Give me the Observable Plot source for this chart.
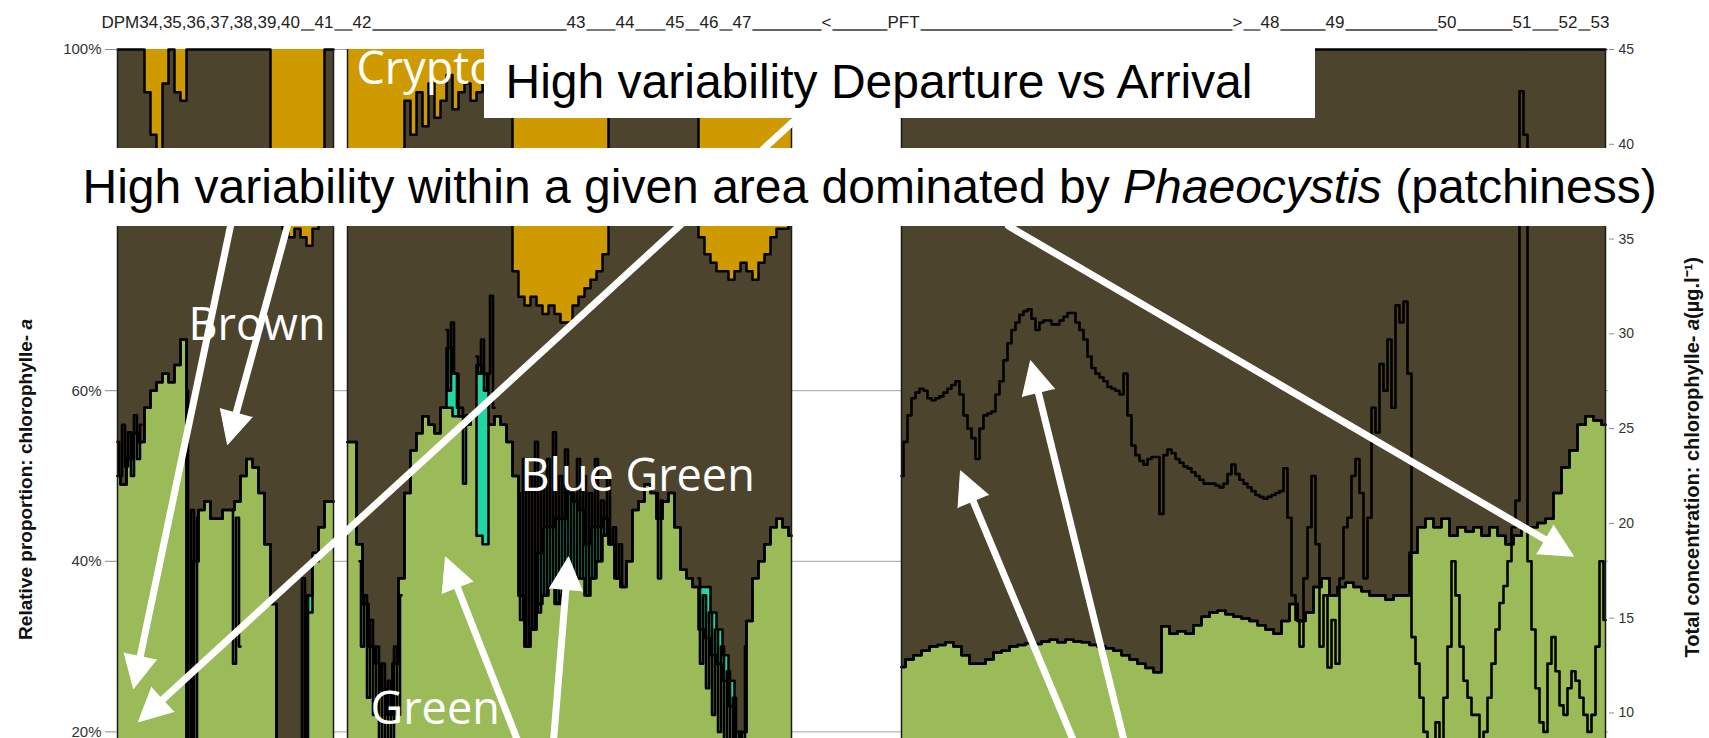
<!DOCTYPE html>
<html><head><meta charset="utf-8">
<script src="https://cdn.jsdelivr.net/npm/d3@7"></script>
<script src="https://cdn.jsdelivr.net/npm/@observablehq/plot@0.6"></script>
<style>html,body{margin:0;padding:0;background:#fff;overflow:hidden;width:1709px;height:738px}</style>
</head><body><div id="chart"></div>
<script>
const N = null;
// ---------- DATA ----------
// x = sample number along the transect; percentages = relative proportion of chlorophyll-a
const p1Start = 0, p1Step = 6, c1Step = 3;
const green1  = [50,49,52,55,54,58,60,61,62,61, 63,66,18,40,46,47,45,45,46,46, 47,50,52,51,48,42,35,18,15,12, 12,15,34,40,44,47,47];
const blue1   = [0,0,0,0,0,0,0,0,0,0, 0,0,0,0,0,0,0,0,0,0, 0,0,0,0,0,0,0,0,0,0, 0,0,2,1,0,0,0];
const crypto1 = [0,0,0,0,0,5,10,13,4,0, 5,6,0,0,0,0,0,0,0,0, 0,0,0,0,0,0,19,20,21,22, 21,22,23,21,12,0,0];
// total concentration (µg/l), right axis
const conc1 = [24.3,22.5,25.2,23.0,24.8,22.5,25.7,23.4,25.2,
  N,N,N,N,N,N,N,N,N,N,N,N,N,N,
  27.0,4.5,20.7,3.6,20.3,
  N,N,N,N,N,N,N,N,N,N,
  20.7,12.6,20.3,13.5,
  N,N,N,N,N,N,N,N,N,N,N,N,N,N,N,N,N,N,N,
  4.5,17.1,2.3,16.2,
  N,N,N,N,N,N,N,N];

const p2Start = 230, p2Step = 6, c2Step = 3;
const green2  = [54,54,42,35,30,28,25,22,28,38, 48,53,55,57,56,55,58,58,57,57, 56,57,43,42,56,57,56,54,50,36,
  30,32,35,36,37,35,36,37,38,38, 36,38,40,43,42,38,37,40,46,47, 49,48,45,47,48,44,39,38,37,32,
  31,29,28,26,23,18,20,33,38,40, 42,44,45,44,43];
const blue2   = [0,0,0,0,0,0,0,0,0,0, 0,0,0,0,0,0,0,7,5,0, 0,0,20,20,0,0,0,0,0,0,
  0,0,6,8,7,10,9,11,9,8, 6,6,4,2,0,0,0,0,0,0, 0,0,0,0,0,0,0,0,0,5,
  6,5,4,3,3,2,0,0,0,0, 0,0,0,0,0];
const crypto2 = [15,15,14,15,16,15,14,15,14,12, 6,10,5,9,4,8,6,3,7,5, 4,6,5,4,5,6,5,4,26,29,
  30,29,30,31,30,31,32,32,30,29, 28,27,26,24,0,0,0,0,0,0, 0,0,0,0,0,0,0,0,0,22,
  24,25,26,26,27,26,25,26,27,25, 24,22,21,21,20];
const conc2 = [N,N,N,N,
  18.0,13.5,16.2,10.8,14.9,9.9,13.5,8.1,12.6,7.2,11.7,8.1,13.5,9.9,16.2,
  N,N,N,N,N,N,N,N,N,N,N,N,N,N,
  30.2,27.0,30.6,27.9,26.1,26.1,22.1,25.7,
  N,N,
  28.8,27.9,29.7,27.0,27.9,32.0,26.1,
  N,N,N,N,N,N,N,
  21.6,14.9,23.4,13.5,22.5,14.4,24.3,15.3,22.5,16.2,23.4,16.7,24.8,15.8,22.5,16.2,23.9,16.7,
  21.6,17.1,23.4,17.1,22.5,16.2,21.6,17.1,23.4,18.0,21.2,19.4,22.5,18.9,19.8,17.1,18.9,16.7,
  N,N,N,N,N,N,N,N,N,N,
  21.6,17.1,21.2,
  N,N,N,N,N,N,N,N,N,N,N,
  17.1,12.6,16.2,11.3,15.3,9.9,14.4,9.0,13.5,8.1,12.2,6.8,10.8,5.4,9.0,6.3,13.5,
  N,N,N,N,N,N,N,N,N,N,N,N,N,N,N];

const p3Start = 784, p3Step = 8, c3Step = 4;
const green3 = [27.6,28.5,29,29.5,30,30.2,30.5,30,29,28,
  28,28.5,29.3,29.5,30,30.2,30.4,30.3,30.6,30.8,
  30.5,30.8,30.6,30.5,30.2,30,29.8,29.5,29,28.5,
  28,27.5,27,32.4,31.5,31.8,31.5,32.5,33.5,34,
  34.2,33.8,33.5,33.3,33,32.5,32,31.5,33,35,
  33,34,37,38,36,37,37.5,37,36.5,36,
  36,35.5,36,36,41,44,45,44,45,43,
  44,43.5,44,43,44,43,42,43,44,44,
  44.5,45,48,51,53,56,57,56.5,56];
const conc3 = [22.5,24.3,25.7,26.6,26.9,27.1,27.0,26.6,26.5,26.6,
  26.7,26.9,27.1,27.3,27.5,26.8,25.7,25.0,24.5,23.4,
  25.0,25.7,25.8,25.9,26.8,27.5,28.6,29.5,30.2,30.6,
  31.0,31.2,31.3,30.8,30.2,30.6,30.7,30.7,30.5,30.5,
  30.7,30.9,31.1,31.1,30.6,30.2,29.7,28.8,28.2,27.9,
  27.7,27.5,27.2,27.1,27.0,26.8,27.9,25.7,24.1,23.6,
  23.3,23.1,23.4,23.5,23.5,20.5,23.6,23.9,23.7,23.4,
  23.2,23.0,22.9,22.7,22.5,22.3,22.1,22.1,22.1,22.0,
  21.9,22.1,22.6,23.1,22.6,22.3,22.1,21.9,21.7,21.5,
  21.4,21.3,21.4,21.5,21.6,21.7,22.9,20.3,16.2,14.9,
  13.5,17.1,19.8,22.5,18.9,13.5,16.2,12.4,14.9,12.6,
  17.1,19.8,20.3,22.5,23.4,21.6,17.1,20.3,26.1,24.8,
  28.4,27.0,29.7,26.1,31.5,30.6,31.7,27.9,14.0,12.6,
  10.8,9.0,8.1,8.6,9.5,8.6,10.8,13.5,18.0,16.2,
  13.5,11.7,10.8,9.9,9.9,8.6,9.0,10.8,12.6,14.4,
  15.8,16.7,18.0,19.8,21.2,42.8,40.5,18.0,14.4,11.3,
  9.5,9.0,12.6,14.0,12.2,10.4,9.9,11.3,12.2,11.7,
  10.8,9.9,9.0,9.9,13.5,18.0,14.9];

const pctTicks = [20, 40, 60, 80, 100];
const concTicks = [10, 15, 20, 25, 30, 35, 40, 45];
const CONC_MAX = 45;

const stationLabels = ["DPM34,35,36,37,38,39,40","41","42","43","44","45","46","47","<","PFT",">","48","49","50","51","52","53"];
const stationIdx    = [-16,197,235,449,498,548,582,615,704,770,1115,1143,1208,1320,1395,1441,1473];

const labelTexts = ["Crypto", "Brown", "Blue Green", "Green"];
const labelX = [239, 71, 403, 253];
const labelY = [96.0, 66.0, 48.3, 20.9];

const BOX1_TEXT = "High variability Departure vs Arrival";
const BAND_PARTS = ["High variability within a given area dominated by ", "Phaeocystis", " (patchiness)"];
const LEFT_PARTS = ["Relative proportion: chlorophylle- ", "a"];
const RIGHT_PARTS = ["Total concentration: chlorophylle- ", "a", "(µg.l⁻¹)"];

// annotation arrows (tail -> tip), in chart units
const arrowX1 = [113, 170, 679, 891, 463, 423, 1023, 1046];
const arrowY1 = [79.3, 79.3, 91.9, 79.3, 0.2, 0.2, 0.2, 0.2];
const arrowX2 = [16, 110, 21, 1456, 328, 451, 843, 913];
const arrowY2 = [25.1, 53.7, 21.2, 40.6, 40.5, 40.5, 50.6, 63.5];

// ---------- LAYOUT ----------
const W = 1709, H = 940, ML = 117, MR = 101, MT = 49, MB = 38;
const X_DOMAIN = [0, 1491];
const C_GREEN = "#9bbb59", C_CYAN = "#22d6a4", C_BROWN = "#4d442e", C_GOLD = "#cf9a00";
const SANS = "'Liberation Sans', Arial, sans-serif";
const LABEL_FONT = "'Open Sans', sans-serif";

const xs = Plot.scale({x: {domain: X_DOMAIN, range: [ML, W - MR]}});
const ys = Plot.scale({y: {domain: [0, 100], range: [H - MB, MT]}});

const PANELS = [
  {start: p1Start, step: p1Step, green: green1, blue: blue1, crypto: crypto1, cStep: c1Step, conc: conc1},
  {start: p2Start, step: p2Step, green: green2, blue: blue2, crypto: crypto2, cStep: c2Step, conc: conc2},
  {start: p3Start, step: p3Step, green: green3, cStep: c3Step, conc: conc3}
];
const rows = [];
PANELS.forEach((p, pi) => p.green.forEach((g, i) => {
  const b = p.blue ? p.blue[i] : 0;
  const c = p.crypto ? p.crypto[i] : 0;
  rows.push({panel: pi, x: p.start + i * p.step, g, gb: g + b, top: 100 - c});
}));
const concRows = [];
PANELS.forEach((p, pi) => p.conc.forEach((v, i) => {
  concRows.push({panel: pi, x: p.start + i * p.cStep, y: v == null ? NaN : v * 100 / CONC_MAX});
}));
const edges = PANELS.flatMap(p => [p.start, p.start + (p.green.length - 1) * p.step]);

// arrows
const arrows = arrowX1.map((_, i) => {
  const px1 = xs.apply(arrowX1[i]), py1 = ys.apply(arrowY1[i]);
  const px2 = xs.apply(arrowX2[i]), py2 = ys.apply(arrowY2[i]);
  const dx = px2 - px1, dy = py2 - py1;
  return {x1: arrowX1[i], y1: arrowY1[i], x2: arrowX2[i], y2: arrowY2[i], rot: Math.atan2(dx, -dy) * 180 / Math.PI};
});

// header station labels + underscore segments
const HEADER_FS = 17;
const ctx = document.createElement("canvas").getContext("2d");
ctx.font = `${HEADER_FS}px 'Liberation Sans'`;
const pxPerPct = (H - MB - MT) / 100;
const HEADER_Y = (H - MB - 27) / pxPerPct;
const UNDER_Y = (H - MB - 29.5) / pxPerPct;
const BAND_Y1 = (H - MB - 226) / pxPerPct, BAND_Y2 = (H - MB - 148) / pxPerPct;
const stations = stationLabels.map((t, i) => ({t, x: stationIdx[i]}));
const segs = [];
for (let i = 0; i < stations.length - 1; i++) {
  const endPx = xs.apply(stations[i].x) + ctx.measureText(stations[i].t).width + 1;
  segs.push({x1: xs.invert(endPx), x2: stations[i + 1].x});
}

const plot = Plot.plot({
  width: W, height: H,
  marginLeft: ML, marginRight: MR, marginTop: MT, marginBottom: MB,
  x: {domain: X_DOMAIN, axis: null},
  y: {domain: [0, 100], axis: null},
  style: {fontFamily: SANS, background: "white", overflow: "visible"},
  marks: [
    Plot.ruleY(pctTicks, {x1: X_DOMAIN[0], x2: X_DOMAIN[1], stroke: "#a3a3a3", strokeWidth: 1}),
    Plot.areaY(rows, {x: "x", y1: 0, y2: "g", z: "panel", fill: C_GREEN, curve: "step"}),
    Plot.areaY(rows, {x: "x", y1: "g", y2: "gb", z: "panel", fill: C_CYAN, curve: "step"}),
    Plot.areaY(rows, {x: "x", y1: "gb", y2: "top", z: "panel", fill: C_BROWN, curve: "step"}),
    Plot.areaY(rows, {x: "x", y1: "top", y2: 100, z: "panel", fill: C_GOLD, curve: "step"}),
    Plot.lineY(rows, {x: "x", y: "g", z: "panel", stroke: "#000", strokeWidth: 2.5, curve: "step"}),
    Plot.lineY(rows, {x: "x", y: "gb", z: "panel", stroke: "#000", strokeWidth: 2.5, curve: "step"}),
    Plot.lineY(rows, {x: "x", y: "top", z: "panel", stroke: "#000", strokeWidth: 2.5, curve: "step"}),
    Plot.lineY(concRows, {x: "x", y: "y", z: "panel", stroke: "#000", strokeWidth: 2.6, curve: "step"}),
    Plot.ruleX(edges, {y1: 0, y2: 100, stroke: "#1a1a1a", strokeWidth: 1.5}),
    Plot.axisY(pctTicks, {anchor: "left", tickSize: 12, tickPadding: 4, tickFormat: d => d + "%", stroke: "#8c8c8c", fill: "#333", fontSize: 15, label: null}),
    Plot.text(labelTexts, {x: (d, i) => labelX[i], y: (d, i) => labelY[i], text: d => d, textAnchor: "start", lineAnchor: "bottom", fill: "white", fontSize: 45, fontFamily: LABEL_FONT}),
    Plot.arrow(arrows, {x1: "x1", y1: "y1", x2: "x2", y2: "y2", insetEnd: 22, headLength: 0, stroke: "white", strokeWidth: 7}),
    Plot.vector(arrows, {x: "x2", y: "y2", rotate: "rot", length: 33, r: 16.5, anchor: "end", shape: "spike", fill: "white", stroke: "white", strokeWidth: 1}),
    Plot.rect([0], {x1: 367, x2: 1198, y1: 91.91, y2: 101.05, fill: "white"}),
    Plot.rect([0], {x1: -47, x2: 1563, y1: BAND_Y1, y2: BAND_Y2, fill: "white"}),
    Plot.text([BOX1_TEXT], {x: 388, y: 94.26, text: d => d, textAnchor: "start", lineAnchor: "bottom", fill: "black", fontSize: 48, fontFamily: SANS}),
    Plot.text([BAND_PARTS.join("")], {x: -35, y: 81.95, text: d => d, textAnchor: "start", lineAnchor: "bottom", fill: "black", fontSize: 48, fontFamily: SANS}),
    Plot.axisY(concTicks.map(c => c * 100 / CONC_MAX), {anchor: "right", tickSize: 5, tickPadding: 5, tickFormat: d => Math.round(d * CONC_MAX / 100), stroke: "#8c8c8c", fill: "#333", fontSize: 14, label: null}),
    Plot.text(stations, {x: "x", y: HEADER_Y, text: "t", textAnchor: "start", lineAnchor: "bottom", fill: "#222", fontSize: HEADER_FS, fontFamily: SANS}),
    Plot.link(segs, {x1: "x1", x2: "x2", y1: UNDER_Y, y2: UNDER_Y, stroke: "#333", strokeWidth: 1.3}),
    Plot.text([LEFT_PARTS.join("")], {x: -92, y: 49.6, text: d => d, rotate: -90, fontSize: 19, fontWeight: "bold", fill: "#111", fontFamily: SANS}),
    Plot.text([RIGHT_PARTS.join("")], {x: 1575, y: 52.2, text: d => d, rotate: -90, fontSize: 20, fontWeight: "bold", fill: "#111", fontFamily: SANS})
  ]
});

function rebuild(el, parts) {
  const t = d3.select(el);
  t.text(null);
  parts.forEach(([s, it]) => { const sp = t.append("tspan").text(s); if (it) sp.attr("font-style", "italic"); });
}
d3.select(plot).selectAll("text").each(function() {
  const s = this.textContent;
  if (s === BAND_PARTS.join("")) rebuild(this, [[BAND_PARTS[0], false], [BAND_PARTS[1], true], [BAND_PARTS[2], false]]);
  else if (s === LEFT_PARTS.join("")) rebuild(this, [[LEFT_PARTS[0], false], [LEFT_PARTS[1], true]]);
  else if (s === RIGHT_PARTS.join("")) rebuild(this, [[RIGHT_PARTS[0], false], [RIGHT_PARTS[1], true], [RIGHT_PARTS[2], false]]);
});
document.getElementById("chart").appendChild(plot);
</script></body></html>
